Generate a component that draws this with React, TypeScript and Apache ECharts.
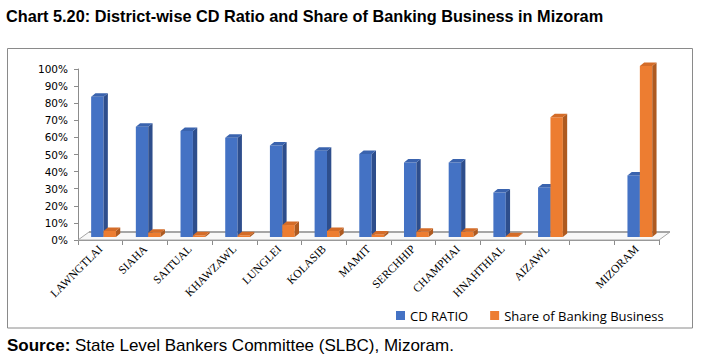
import React, { useEffect, useRef } from "react";
import * as echarts from "echarts";

const TITLE = "Chart 5.20: District-wise CD Ratio and Share of Banking Business in Mizoram";
const SOURCE_LABEL = "Source:";
const SOURCE_TEXT = " State Level Bankers Committee (SLBC), Mizoram.";

const categories = [
  "LAWNGTLAI", "SIAHA", "SAITUAL", "KHAWZAWL", "LUNGLEI", "KOLASIB", "MAMIT",
  "SERCHHIP", "CHAMPHAI", "HNAHTHIAL", "AIZAWL", "", "MIZORAM",
];
const cdRatio = [0.82, 0.645, 0.62, 0.58, 0.535, 0.505, 0.485, 0.435, 0.435, 0.26, 0.29, null, 0.36];
const shareBanking = [0.035, 0.025, 0.01, 0.01, 0.07, 0.035, 0.015, 0.03, 0.03, 0.005, 0.7, null, 1.0];
const seriesNames = ["CD RATIO", "Share of Banking Business"];
const yTicks = { min: 0, max: 1, interval: 0.1 };

const BW = 12.4;
const DX = 4.3;
const DY = 3.5;
const LIFT = 3;

function makeBar(offset: number, front: string, side: string, topC: string) {
  return (params: any, api: any) => {
    const i = api.value(0);
    const v = api.value(1);
    const base = api.coord([i, 0]);
    const top = api.coord([i, v]);
    const x0 = base[0] + offset;
    const x1 = x0 + BW;
    const yb = base[1] - LIFT;
    const yt = top[1] - LIFT;
    return {
      type: "group",
      children: [
        { type: "rect", shape: { x: x0, y: yt, width: BW, height: yb - yt }, style: { fill: front } },
        {
          type: "polygon",
          shape: { points: [[x1, yt], [x1 + DX, yt - DY], [x1 + DX, yb - DY], [x1, yb]] },
          style: { fill: side },
        },
        {
          type: "polygon",
          shape: { points: [[x0, yt], [x0 + DX, yt - DY], [x1 + DX, yt - DY], [x1, yt]] },
          style: { fill: topC },
        },
      ],
    };
  };
}

function floorItem(params: any) {
  const cs = params.coordSys;
  const xl = cs.x;
  const xr = cs.x + cs.width;
  const yf = cs.y + cs.height;
  const fx = 11;
  const fy = 8;
  return {
    type: "group",
    children: [
      {
        type: "polygon",
        shape: { points: [[xl, yf], [xr, yf], [xr + fx, yf - fy], [xl + fx, yf - fy]] },
        style: { fill: "#F8F8F8", stroke: "#A6A6A6", lineWidth: 1 },
      },
      {
        type: "line",
        shape: { x1: xl + fx, y1: yf - fy, x2: xr + fx, y2: yf - fy },
        style: { stroke: "#A6A6A6", lineWidth: 2 },
      },
    ],
  };
}

export default function App() {
  const ref = useRef<HTMLDivElement>(null);
  useEffect(() => {
    if (!ref.current) return;
    const chart = echarts.init(ref.current, undefined, { renderer: "svg" });
    const blueData = categories
      .map((_, i) => [i, cdRatio[i]])
      .filter((d) => d[1] !== null);
    const orangeData = categories
      .map((_, i) => [i, shareBanking[i]])
      .filter((d) => d[1] !== null);
    chart.setOption({
      animation: false,
      backgroundColor: "#ffffff",
      title: [
        {
          text: TITLE,
          left: 6,
          top: 8,
          padding: 0,
          textStyle: { fontFamily: "Liberation Sans", fontWeight: "bold", fontSize: 16.3, color: "#000" },
        },
        {
          text: "{b|" + SOURCE_LABEL + "}" + SOURCE_TEXT,
          left: 7,
          top: 337,
          padding: 0,
          textStyle: {
            fontFamily: "Liberation Sans",
            fontWeight: "normal",
            fontSize: 17,
            color: "#000",
            rich: {
              b: { fontFamily: "Liberation Sans", fontWeight: "bold", fontSize: 17, color: "#000" },
            },
          },
        },
      ],
      graphic: [
        {
          type: "rect",
          z: -10,
          shape: { x: 7.5, y: 48.5, width: 685, height: 279.5 },
          style: { fill: "none", stroke: "#8A8A8A", lineWidth: 1 },
        },
      ],
      legend: {
        data: seriesNames,
        left: 396,
        top: 309,
        icon: "rect",
        itemWidth: 9,
        itemHeight: 9,
        itemGap: 22,
        padding: 0,
        textStyle: { fontFamily: "Open Sans", fontSize: 13, color: "#000" },
      },
      grid: { left: 78, right: 43, top: 69, bottom: 119 },
      xAxis: {
        type: "category",
        data: categories,
        boundaryGap: true,
        axisLine: { show: true, lineStyle: { color: "#8C8C8C", width: 1 } },
        axisTick: { show: true, interval: 0, length: 5, lineStyle: { color: "#8C8C8C" } },
        axisLabel: {
          interval: 0,
          rotate: 45,
          margin: 7,
          padding: [21, 0, 0, 0],
          fontFamily: "Liberation Serif",
          fontSize: 11.5,
          color: "#000",
        },
        splitLine: { show: false },
      },
      yAxis: {
        type: "value",
        min: yTicks.min,
        max: yTicks.max,
        interval: yTicks.interval,
        axisLine: { show: true, lineStyle: { color: "#8C8C8C", width: 1 } },
        axisTick: { show: true, length: 4, lineStyle: { color: "#8C8C8C" } },
        axisLabel: {
          margin: 10,
          formatter: (v: number) => Math.round(v * 100) + "%",
          fontFamily: "DejaVu Sans",
          fontSize: 10.5,
          color: "#000",
        },
        splitLine: { show: false },
      },
      series: [
        {
          type: "custom",
          name: "floor",
          silent: true,
          z: 1,
          renderItem: floorItem,
          data: [[0, 0]],
          encode: { x: 0, y: 1 },
        },
        {
          type: "custom",
          name: seriesNames[0],
          z: 2,
          itemStyle: { color: "#4472C4" },
          renderItem: makeBar(-9.2, "#4472C4", "#2E4E8C", "#3A63AE"),
          data: blueData,
          encode: { x: 0, y: 1 },
        },
        {
          type: "custom",
          name: seriesNames[1],
          z: 3,
          itemStyle: { color: "#ED7D31" },
          renderItem: makeBar(3.2, "#ED7D31", "#AE5A20", "#D46C28"),
          data: orangeData,
          encode: { x: 0, y: 1 },
        },
      ],
    });
    return () => chart.dispose();
  }, []);
  return (
    <div
      ref={ref}
      style={{ position: "absolute", left: 0, top: 0, width: 702, height: 359, background: "#fff" }}
    />
  );
}
